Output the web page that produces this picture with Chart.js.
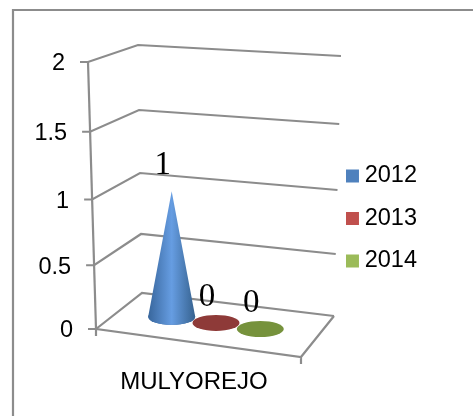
<!DOCTYPE html>
<html>
<head>
<meta charset="utf-8">
<title>MULYOREJO</title>
<script src="https://cdn.jsdelivr.net/npm/chart.js@4/dist/chart.umd.js"></script>
<style>
    html, body { margin: 0; padding: 0; background: #fff; }
    #wrap { position: relative; width: 473px; height: 416px; }
</style>
</head>
<body>
<div id="wrap"><canvas id="chart"></canvas></div>
<script>
const categories = ['MULYOREJO'];
const seriesNames = ['2012', '2013', '2014'];
const values2012 = [1];
const values2013 = [0];
const values2014 = [0];
const valueTicks = [0, 0.5, 1, 1.5, 2];

const legendColors = ['#4f81bd', '#c0504d', '#9bbb59'];
const baseColors = ['#3f6fa8', '#8e3a38', '#76923c'];
const coneShades = ['#38669c', '#669de2', '#36628f'];
const lineColor = '#8c8c8c';

const TOP_PX = 62;
const BOTTOM_PX = 329;
const axisX = y => 88 + 8 * (y - TOP_PX) / (BOTTOM_PX - TOP_PX);

// y axis leans to the right towards the floor, spacing opens up slightly with height
class TiltedScale extends Chart.LinearScale {
    static id = 'tilted';
    static defaults = Chart.LinearScale.defaults;

    getPixelForDecimal(decimal) {
        return super.getPixelForDecimal(decimal - 0.06 * decimal * (1 - decimal));
    }

    _computeLabelItems(area) {
        const items = super._computeLabelItems(area);
        items.forEach(item => {
            const pos = item.options.translation;
            pos[0] += axisX(pos[1]) - axisX(BOTTOM_PX);
            pos[1] += 2;
        });
        return items;
    }
}
Chart.register(TiltedScale);

// one gridline: tick, side wall, back wall
const drawWallLine = (ctx, scale, v) => {
    const y = scale.getPixelForValue(v);
    const x = axisX(y);
    ctx.beginPath();
    ctx.moveTo(x - 8, y);
    ctx.lineTo(x, y);
    ctx.lineTo(142 - 2 * v, y - 36 + 9.5 * v);
    ctx.lineTo(334 + 3.5 * v, y - 13 + 3.5 * v);
    ctx.stroke();
};

const walls = {
    id: 'walls',
    beforeDraw(chart) {
        const { ctx, scales: { y: yScale } } = chart;
        ctx.save();
        ctx.strokeStyle = lineColor;
        ctx.lineWidth = 2.2;

        // outer frame runs off the right and bottom edges
        ctx.beginPath();
        ctx.moveTo(13, 416);
        ctx.lineTo(13, 10);
        ctx.lineTo(473, 10);
        ctx.stroke();

        valueTicks.forEach(v => drawWallLine(ctx, yScale, v));

        // value axis
        ctx.beginPath();
        ctx.moveTo(axisX(TOP_PX), TOP_PX);
        ctx.lineTo(axisX(BOTTOM_PX), BOTTOM_PX);
        ctx.stroke();

        // floor front edge, right edge and end ticks
        ctx.beginPath();
        ctx.moveTo(96, 336);
        ctx.lineTo(96, 329);
        ctx.lineTo(301, 357);
        ctx.lineTo(334, 316);
        ctx.moveTo(301, 357);
        ctx.lineTo(301, 364);
        ctx.stroke();
        ctx.restore();
    }
};

// datasets are drawn here as cones standing on the floor, the flat bars are skipped
const cones = {
    id: 'cones',
    beforeDatasetsDraw(chart) {
        const { ctx, scales: { y: yScale } } = chart;
        const zero = yScale.getPixelForValue(0);
        ctx.save();
        chart.data.datasets.forEach((ds, i) => {
            const bar = chart.getDatasetMeta(i).data[0];
            const cx = bar.x + 22;
            const cy = zero + 0.137 * (bar.x - 96) - 19.5;
            const apex = cy - (zero - bar.y) * 0.97;
            const rx = 23.5;
            const ry = 8;

            ctx.fillStyle = baseColors[i];
            ctx.beginPath();
            ctx.ellipse(cx, cy, rx, ry, 0, 0, Math.PI * 2);
            ctx.fill();

            if (ds.data[0] > 0) {
                const grad = ctx.createLinearGradient(cx - rx, 0, cx + rx, 0);
                grad.addColorStop(0, coneShades[0]);
                grad.addColorStop(0.5, coneShades[1]);
                grad.addColorStop(1, coneShades[2]);
                ctx.fillStyle = grad;
                ctx.beginPath();
                ctx.moveTo(cx, apex);
                ctx.lineTo(cx - rx, cy);
                ctx.ellipse(cx, cy, rx, ry, 0, Math.PI, 0, true);
                ctx.closePath();
                ctx.fill();
            }

            ctx.fillStyle = '#000';
            ctx.font = '33px "Liberation Serif"';
            ctx.textAlign = 'center';
            ctx.textBaseline = 'middle';
            ctx.fillText(String(ds.data[0]), cx - 9, apex - 26);
        });
        ctx.restore();
        return false;
    }
};

// legend sits a little above the middle of its column
const legendLift = {
    id: 'legendLift',
    afterLayout(chart) {
        chart.legend.top -= 12;
        chart.legend.bottom -= 12;
    }
};

new Chart(document.getElementById('chart'), {
    type: 'bar',
    data: {
        labels: categories,
        datasets: [
            { label: seriesNames[0], data: values2012, backgroundColor: legendColors[0] },
            { label: seriesNames[1], data: values2013, backgroundColor: legendColors[1] },
            { label: seriesNames[2], data: values2014, backgroundColor: legendColors[2] }
        ]
    },
    plugins: [walls, cones, legendLift],
    options: {
        responsive: true,
        maintainAspectRatio: false,
        animation: false,
        categoryPercentage: 0.627,
        barPercentage: 1,
        layout: { padding: { top: TOP_PX, bottom: 17, left: 0, right: 46 } },
        scales: {
            x: {
                grid: { display: false },
                border: { display: false },
                afterFit: scale => { scale.height = 70; },
                ticks: {
                    color: '#000',
                    padding: 31,
                    autoSkip: false,
                    maxRotation: 0,
                    font: { family: '"Liberation Sans"', size: 24 }
                }
            },
            y: {
                type: 'tilted',
                min: 0,
                max: 2,
                afterBuildTicks: scale => { scale.ticks = valueTicks.map(value => ({ value })); },
                afterFit: scale => { scale.width = 88; },
                grid: { display: false },
                border: { display: false },
                ticks: {
                    color: '#000',
                    padding: 7,
                    font: { family: '"Liberation Sans"', size: 23.5 },
                    callback: v => String(v)
                }
            },
            spacer: {
                type: 'linear',
                position: 'right',
                grid: { display: false },
                border: { display: false },
                ticks: { display: false },
                afterFit: scale => { scale.width = 33; }
            }
        },
        plugins: {
            tooltip: { enabled: false },
            legend: {
                position: 'right',
                maxWidth: 130,
                labels: {
                    color: '#000',
                    usePointStyle: true,
                    pointStyle: 'rect',
                    boxWidth: 1,
                    boxHeight: 13,
                    padding: 19,
                    font: { family: '"Liberation Sans"', size: 23.5 }
                }
            }
        }
    }
});
</script>
</body>
</html>
